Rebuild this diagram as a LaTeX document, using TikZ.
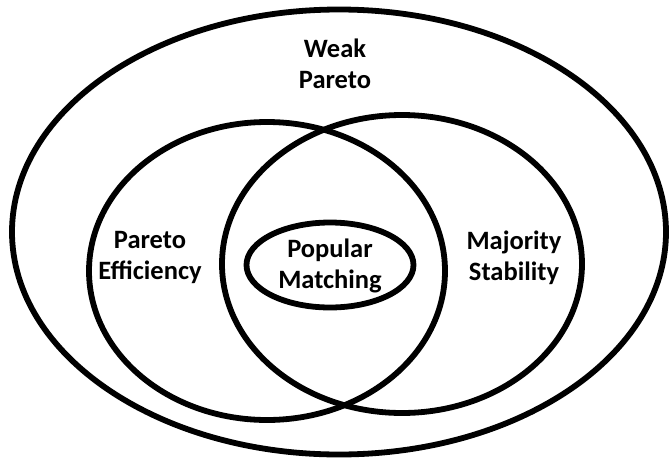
\documentclass[tikz,border=0pt]{standalone}
\usepackage{fontspec}
\setmainfont{Carlito}
\usetikzlibrary{shapes.geometric}
\begin{document}
\begin{tikzpicture}[x=1pt,y=-1pt,
  ring/.style={draw=black,line width=5.8pt,ellipse,inner sep=0pt},
  lbl/.style={align=center,font=\bfseries\fontsize{26.5}{31}\selectfont,inner sep=0pt}]
\useasboundingbox (0,0) rectangle (670,461);
\node[ring,minimum width=654pt,minimum height=445pt] (weak) at (339,232) {};
\node[ring,minimum width=356pt,minimum height=298pt] (pareto) at (267,271) {};
\node[ring,minimum width=360pt,minimum height=298pt] (majority) at (402,264) {};
\node[ring,minimum width=167pt,minimum height=85pt] (popular) at (330,265) {};
\node[lbl] (tweak) at (335,64) {Weak\\Pareto};
\node[lbl] (tpareto) at (150,257) {Pareto\\Efficiency};
\node[lbl] (tmaj) at (514,258) {Majority\\Stability};
\node[lbl] (tpop) at (330,266) {Popular\\Matching};
\end{tikzpicture}
\end{document}
